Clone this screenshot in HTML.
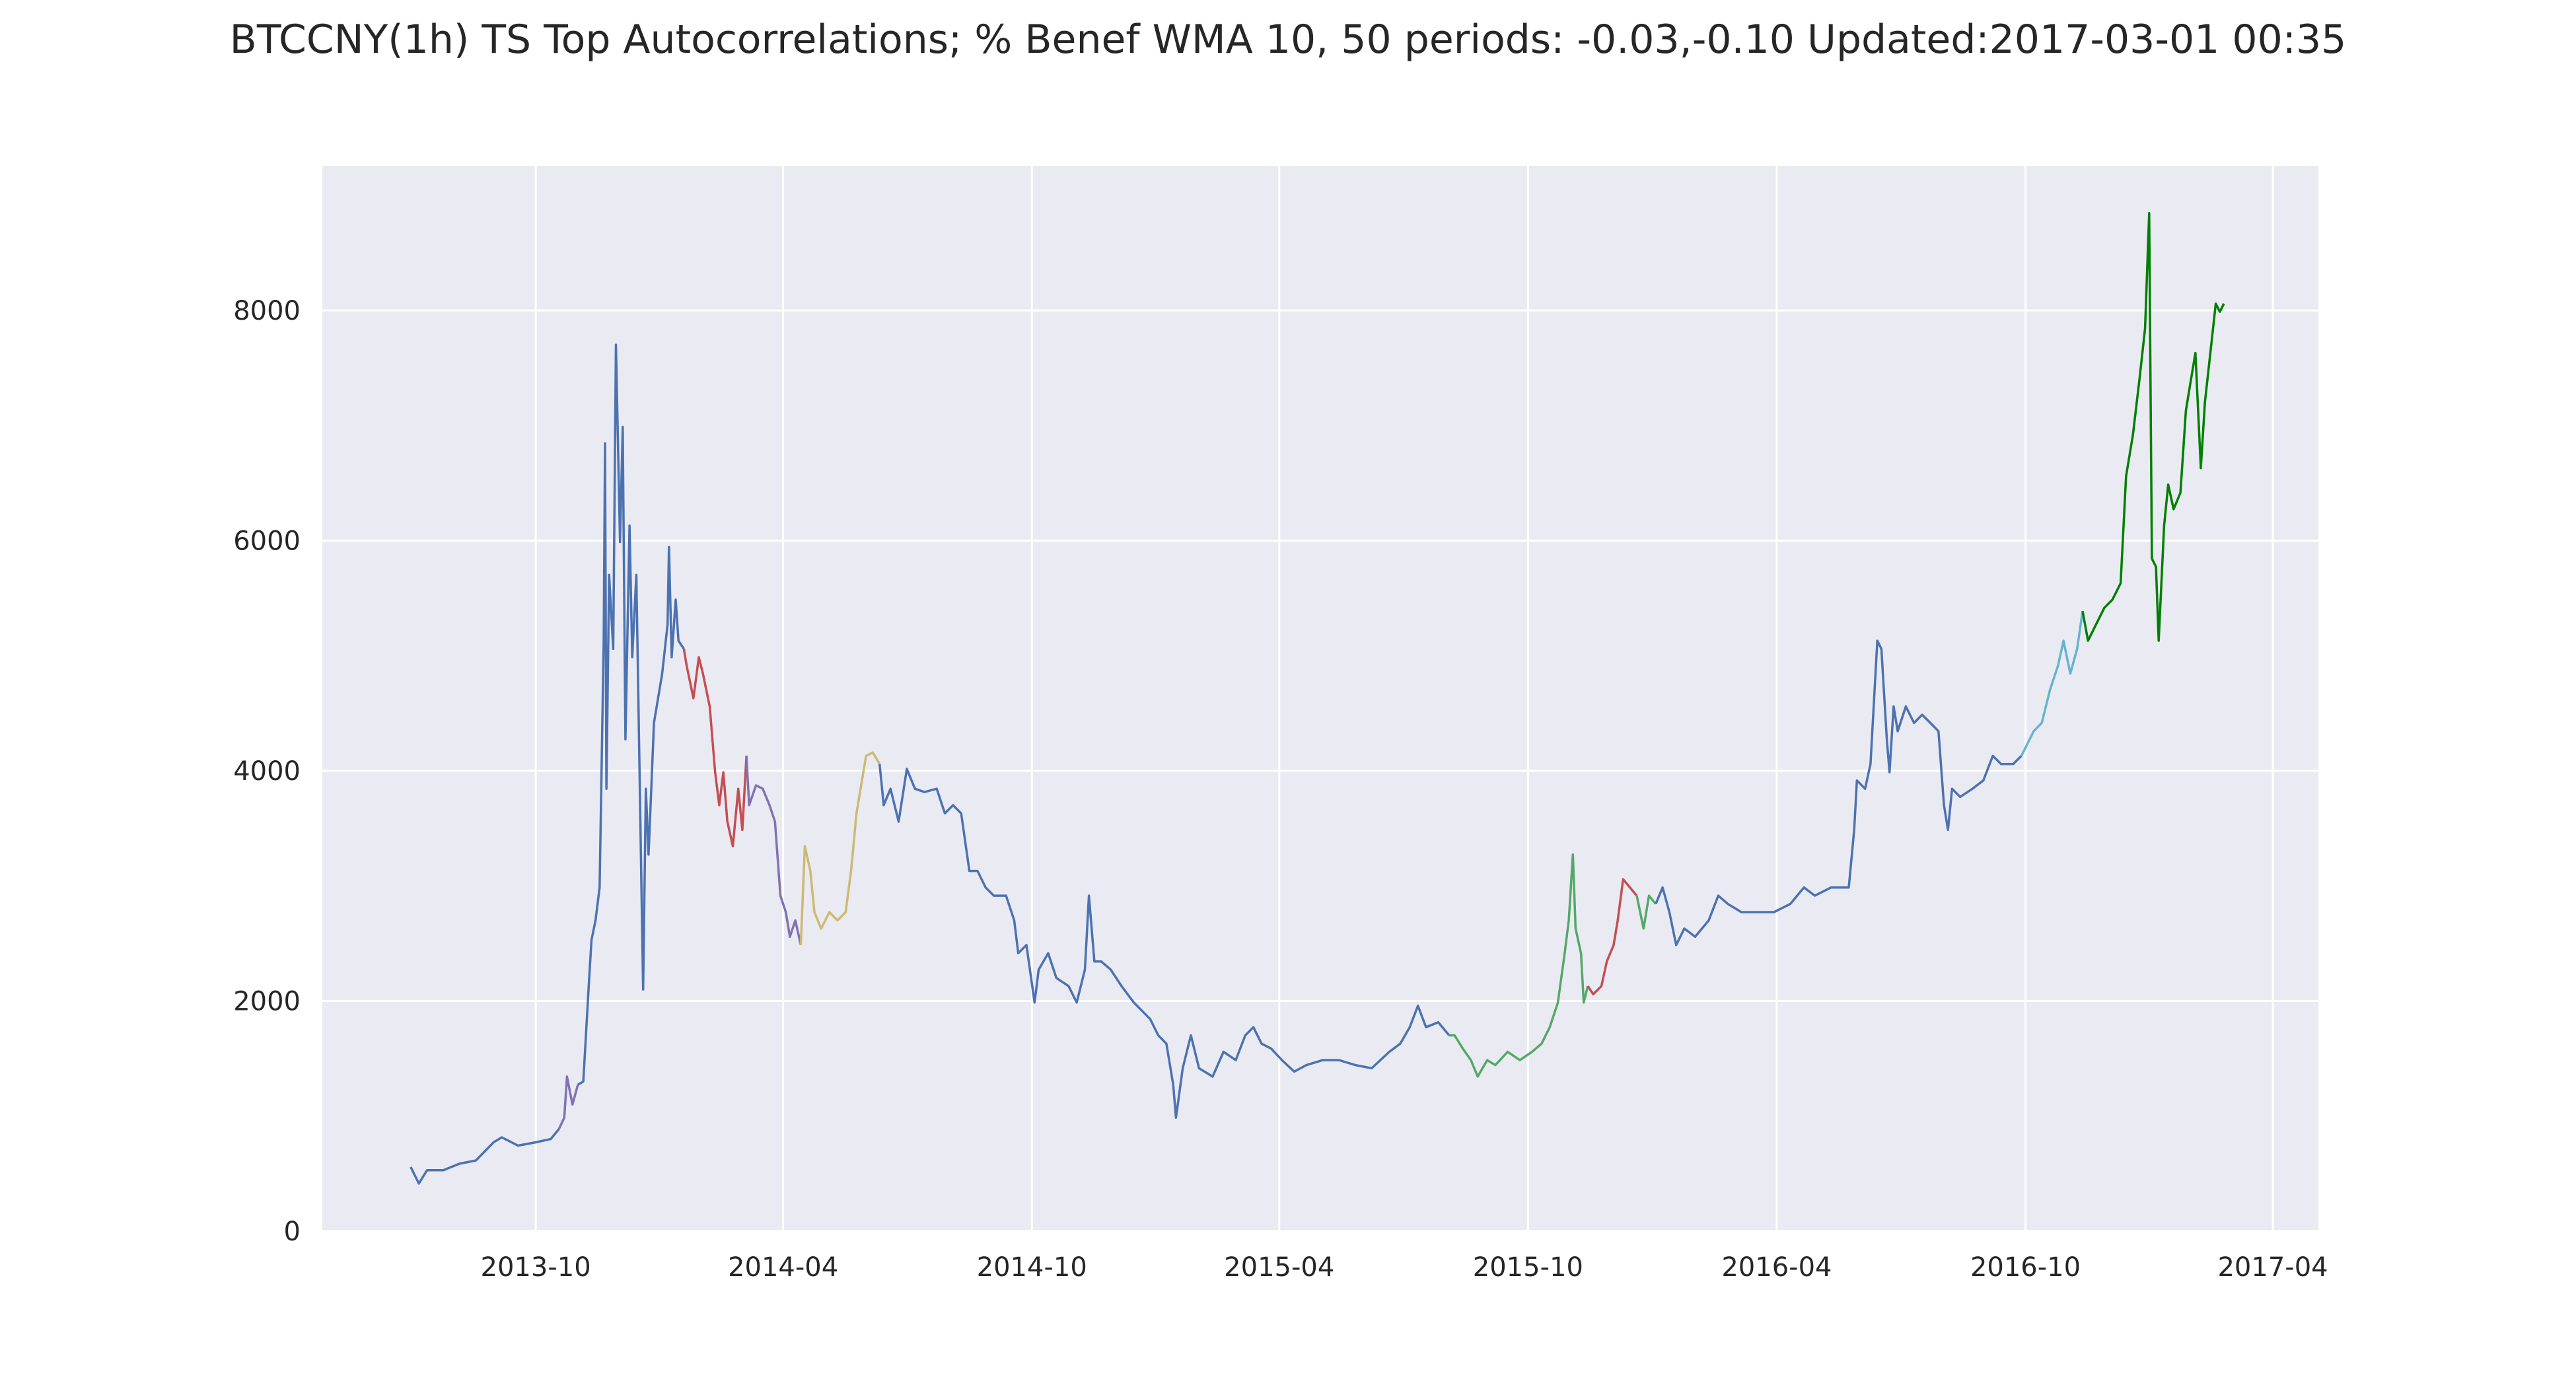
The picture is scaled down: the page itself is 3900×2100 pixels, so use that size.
<!DOCTYPE html>
<html><head><meta charset="utf-8"><style>
html,body{margin:0;padding:0;background:#fff;}
svg{display:block;font-family:"DejaVu Sans","Liberation Sans",sans-serif;}
</style></head><body>
<svg id="chart" width="3900" height="2100" xmlns="http://www.w3.org/2000/svg">
<text x="1950" y="80" text-anchor="middle" font-size="60" fill="#262626">BTCCNY(1h) TS Top Autocorrelations; % Benef WMA 10, 50 periods: -0.03,-0.10 Updated:2017-03-01 00:35</text>
<rect x="488" y="251" width="3022" height="1613" fill="#eaeaf2"/>
<g id="grid"></g><g id="series"></g><g id="ticks"></g>
</svg>
<script>
// days since 2013-10-01, prices in CNY
const yTicks=[0,2000,4000,6000,8000];
const xTickDays=[0,182,365,547,730,913,1096,1278];
const xTickLabels=["2013-10","2014-04","2014-10","2015-04","2015-10","2016-04","2016-10","2017-04"];
const segColors=["#4c72b0","#8172b2","#4c72b0","#c44e52","#8172b2","#ccb974","#4c72b0","#55a868","#c44e52","#55a868","#4c72b0","#64b5cd","#008000"];
const seg0=[[-92,557],[-86,414],[-80,529],[-68,529],[-56,586],[-44,614],[-31,772],[-25,815],[-13,743],[0,772],[11,800],[17,886]];
const seg1=[[21,986],[23,1343],[27,1100],[31,1272]];
const seg2=[[35,1300],[39,2129],[41,2529],[44,2700],[47,2986],[50,5130],[51,6845],[52,3844],[54,5702],[57,5059],[59,7702],[62,5988],[64,6988],[66,4273],[69,6130],[71,4987],[74,5702],[77,3558],[79,2100],[81,3844],[83,3272],[87,4416],[89,4559],[93,4844],[97,5273],[98,5944],[100,4987],[103,5487],[105,5130],[109,5059]];
const seg3=[[111,4916],[116,4630],[120,4987],[123,4844],[128,4559],[132,3987],[135,3701],[138,3987],[141,3558],[145,3344],[149,3844],[152,3487],[155,4130]];
const seg4=[[157,3701],[162,3873],[167,3844],[172,3701],[176,3558],[180,2915],[184,2772],[187,2558],[191,2700],[195,2486]];
const seg5=[[198,3344],[202,3130],[205,2772],[210,2629],[216,2772],[222,2700],[228,2772],[232,3130],[236,3630],[239,3844],[243,4130],[248,4159],[253,4059]];
const seg6=[[256,3701],[261,3844],[267,3558],[273,4016],[279,3844],[286,3815],[295,3844],[301,3630],[307,3701],[313,3630],[319,3130],[325,3130],[331,2986],[337,2915],[346,2915],[352,2700],[355,2415],[361,2486],[367,1986],[370,2272],[377,2415],[383,2200],[392,2129],[398,1986],[404,2272],[407,2915],[411,2343],[416,2343],[423,2272],[431,2129],[440,1986],[446,1915],[452,1843],[458,1701],[464,1629],[469,1272],[471,986],[476,1415],[482,1701],[488,1415],[498,1343],[506,1558],[515,1486],[522,1701],[528,1772],[534,1629],[541,1586],[549,1486],[558,1386],[567,1443],[579,1486],[591,1486],[603,1443],[615,1415],[628,1558],[636,1629],[643,1772],[649,1958],[655,1772],[664,1815],[672,1701]];
const seg7=[[676,1701],[682,1586],[688,1486],[693,1343],[700,1486],[706,1443],[715,1558],[724,1486],[733,1558],[740,1629],[746,1772],[752,1986],[757,2415],[760,2700],[763,3272],[765,2629],[769,2415],[771,1986],[774,2129]];
const seg8=[[778,2058],[784,2129],[788,2343],[793,2486],[796,2700],[800,3058],[805,2986],[810,2915]];
const seg9=[[815,2629],[819,2915],[824,2843]];
const seg10=[[829,2986],[834,2772],[839,2486],[845,2629],[853,2558],[863,2700],[870,2915],[877,2843],[887,2772],[899,2772],[911,2772],[923,2843],[933,2986],[941,2915],[953,2986],[966,2986],[970,3487],[972,3916],[978,3844],[982,4059],[987,5130],[990,5059],[994,4273],[996,3987],[999,4559],[1002,4344],[1008,4559],[1014,4416],[1020,4487],[1026,4416],[1032,4344],[1036,3701],[1039,3487],[1042,3844],[1048,3773],[1057,3844],[1065,3916],[1072,4130],[1078,4059],[1087,4059],[1093,4130]];
const seg11=[[1102,4344],[1108,4416],[1114,4702],[1120,4916],[1124,5130],[1129,4844],[1134,5059],[1138,5387]];
const seg12=[[1142,5130],[1148,5273],[1154,5416],[1160,5487],[1166,5630],[1170,6559],[1175,6916],[1180,7416],[1184,7845],[1187,8845],[1189,5844],[1192,5773],[1194,5130],[1198,6130],[1201,6487],[1205,6273],[1210,6416],[1214,7130],[1217,7345],[1221,7630],[1225,6630],[1228,7202],[1232,7630],[1236,8059],[1239,7988],[1242,8059]];
const segments=[seg0,seg1,seg2,seg3,seg4,seg5,seg6,seg7,seg8,seg9,seg10,seg11,seg12];

const NS="http://www.w3.org/2000/svg";
const X0=488,X1=3510,Y0=1864,Y1=251;
const DMIN=-157,DMAX=1311.5,VMAX=9257;
function xs(d){return X0+(d-DMIN)/(DMAX-DMIN)*(X1-X0);}
function ys(v){return Y0-v/VMAX*(Y0-Y1);}
const grid=document.getElementById('grid'),ticks=document.getElementById('ticks'),series=document.getElementById('series');
yTicks.forEach(v=>{
  const l=document.createElementNS(NS,'line');
  l.setAttribute('x1',X0);l.setAttribute('x2',X1);l.setAttribute('y1',ys(v));l.setAttribute('y2',ys(v));
  l.setAttribute('stroke','#fff');l.setAttribute('stroke-width','3');
  
  
  grid.appendChild(l);
  const t=document.createElementNS(NS,'text');
  t.setAttribute('x',455);t.setAttribute('y',ys(v)+14);t.setAttribute('text-anchor','end');
  t.setAttribute('font-size','40');t.setAttribute('fill','#262626');t.textContent=v;
  
  
  ticks.appendChild(t);
});
xTickDays.forEach((d,i)=>{
  const l=document.createElementNS(NS,'line');
  l.setAttribute('x1',xs(d));l.setAttribute('x2',xs(d));l.setAttribute('y1',Y1);l.setAttribute('y2',Y0);
  l.setAttribute('stroke','#fff');l.setAttribute('stroke-width','3');
  
  
  grid.appendChild(l);
  const t=document.createElementNS(NS,'text');
  t.setAttribute('x',xs(d));t.setAttribute('y',1932);t.setAttribute('text-anchor','middle');
  t.setAttribute('font-size','40');t.setAttribute('fill','#262626');t.textContent=xTickLabels[i];
  
  
  ticks.appendChild(t);
});
let prev=null;
segments.forEach((seg,i)=>{
  const pts=(prev?[prev]:[]).concat(seg);
  const p=document.createElementNS(NS,'polyline');
  p.setAttribute('points',pts.map(q=>xs(q[0]).toFixed(1)+','+ys(q[1]).toFixed(1)).join(' '));
  p.setAttribute('fill','none');p.setAttribute('stroke',segColors[i]);p.setAttribute('stroke-width','3.5');
  p.setAttribute('stroke-linejoin','round');
  
  
  series.appendChild(p);
  prev=seg[seg.length-1];
});
</script>
</body></html>
